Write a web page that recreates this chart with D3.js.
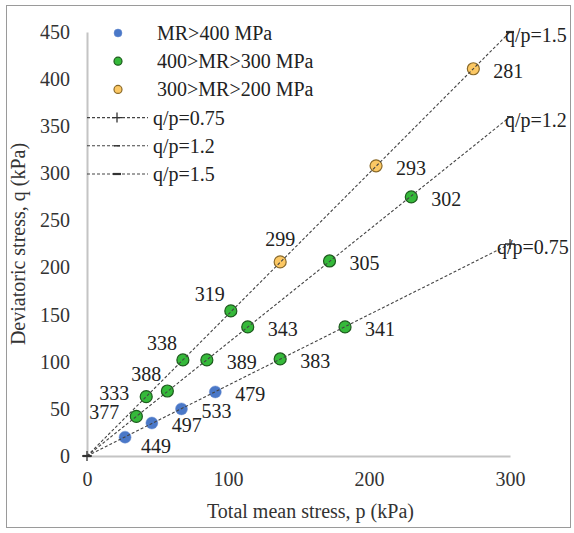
<!DOCTYPE html>
<html>
<head>
<meta charset="utf-8">
<script src="https://cdn.jsdelivr.net/npm/d3@7"></script>
<style>
  html, body { margin: 0; padding: 0; background: #fff; }
  svg { display: block; }
  svg text { font-family: "Liberation Serif", "Times New Roman", serif !important; }
</style>
</head>
<body>
<svg id="chart" width="574" height="533"></svg>
<script>
// Series names (legend)
const seriesNames = ["MR>400 MPa", "400>MR>300 MPa", "300>MR>200 MPa"];

// MR > 400 MPa
const pHigh = [27, 46, 67, 91];
const qHigh = [20, 35, 50, 68];
const mrHigh = [449, 497, 533, 479];

// 400 > MR > 300 MPa
const pMid = [35, 57, 85, 114, 172, 230, 137, 183, 42, 68, 102];
const qMid = [42, 69, 102, 137, 207, 275, 103, 137, 63, 102, 154];
const mrMid = [377, 388, 389, 343, 305, 302, 383, 341, 333, 338, 319];

// 300 > MR > 200 MPa
const pLow = [137, 205, 274];
const qLow = [206, 308, 411];
const mrLow = [299, 293, 281];

// Reference stress ratio lines q/p
const ratios = [0.75, 1.2, 1.5];
const ratioNames = ["q/p=0.75", "q/p=1.2", "q/p=1.5"];

// Axis ticks
const xTicks = [0, 100, 200, 300];
const yTicks = [0, 50, 100, 150, 200, 250, 300, 350, 400, 450];

// Where each value label sits relative to its marker
const sideHigh = ["br", "r", "r", "r"];
const sideMid = ["l", "tl", "r", "r", "r", "r", "r", "r", "l", "tl", "tl"];
const sideLow = ["t", "r", "r"];

const svg = d3.select("#chart");
const font = 20;
const serif = "'Liberation Serif', 'Times New Roman', serif";

// outer frame
svg.append("rect")
  .attr("x", 6.5).attr("y", 5.5).attr("width", 564).attr("height", 522)
  .attr("fill", "#fff").attr("stroke", "#9a9a9a").attr("stroke-width", 1);

const x = d3.scaleLinear().domain([0, 300]).range([87, 510]);
const y = d3.scaleLinear().domain([0, 450]).range([456, 32]);

// axes
const gx = svg.append("g").attr("transform", `translate(0,${y(0)})`)
  .call(d3.axisBottom(x).tickValues(xTicks).tickSize(0).tickPadding(16));
const gy = svg.append("g").attr("transform", `translate(${x(0)},0)`)
  .call(d3.axisLeft(y).tickValues(yTicks).tickSize(0).tickPadding(17));
[gx, gy].forEach(g => {
  g.attr("font-family", serif).attr("font-size", font);
  g.select(".domain").attr("stroke", "#c4c4c4").attr("stroke-width", 2);
  g.selectAll("text").attr("fill", "#333");
});

// axis titles
svg.append("text")
  .attr("x", (x(0) + x(300)) / 2 + 12).attr("y", 518)
  .attr("text-anchor", "middle").attr("font-size", font).attr("fill", "#333")
  .attr("font-family", serif)
  .text("Total mean stress, p (kPa)");
svg.append("text")
  .attr("transform", `translate(25,${(y(0) + y(450)) / 2}) rotate(-90)`)
  .attr("text-anchor", "middle").attr("font-size", font).attr("fill", "#333")
  .attr("font-family", serif)
  .text("Deviatoric stress, q (kPa)");

// series styles
const styles = [
  { fill: "#4a78c8", stroke: "#6d8fd0", sw: 0.5 },
  { fill: "#35b93a", stroke: "#1d5a1d", sw: 1.2 },
  { fill: "#fcc864", stroke: "#8a6a2a", sw: 1.2 }
];

const series = [
  { p: pHigh, q: qHigh, mr: mrHigh, side: sideHigh },
  { p: pMid, q: qMid, mr: mrMid, side: sideMid },
  { p: pLow, q: qLow, mr: mrLow, side: sideLow }
];

const pts = svg.append("g");
const labels = svg.append("g").attr("font-family", serif);

series.forEach((s, si) => {
  const data = s.p.map((p, i) => ({ p, q: s.q[i], mr: s.mr[i], side: s.side[i] }));
  pts.selectAll(null).data(data).enter().append("circle")
    .attr("cx", d => x(d.p)).attr("cy", d => y(d.q)).attr("r", 6)
    .attr("fill", styles[si].fill).attr("stroke", styles[si].stroke)
    .attr("stroke-width", styles[si].sw);

  labels.selectAll(null).data(data).enter().append("text")
    .attr("font-size", font).attr("fill", "#222")
    .attr("dy", "0.35em")
    .attr("text-anchor", d => d.side === "l" ? "end" : (d.side === "t" || d.side === "tl") ? "middle" : "start")
    .attr("x", d => {
      const cx = x(d.p);
      if (d.side === "r") return cx + 20;
      if (d.side === "br") return cx + 16;
      if (d.side === "l") return cx - 17;
      if (d.side === "tl") return cx - 21;
      return cx;
    })
    .attr("y", d => {
      const cy = y(d.q);
      if (d.side === "r") return cy + 2;
      if (d.side === "br") return cy + 9;
      if (d.side === "l") return cy - 4;
      if (d.side === "tl") return cy - 17;
      return cy - 23;
    })
    .text(d => d.mr);
});

// ratio lines drawn over the markers
const lineG = svg.append("g").attr("font-family", serif);
function marker(g, k, cx, cy) {
  if (k === 0) {
    g.append("path").attr("d", `M${cx - 5},${cy}H${cx + 5}M${cx},${cy - 5}V${cy + 5}`)
      .attr("stroke", "#333").attr("stroke-width", 1.3);
  } else if (k === 1) {
    g.append("path").attr("d", `M${cx - 3},${cy}H${cx + 3}`)
      .attr("stroke", "#333").attr("stroke-width", 1.5);
  } else {
    g.append("path").attr("d", `M${cx - 4},${cy}H${cx + 4}`)
      .attr("stroke", "#333").attr("stroke-width", 2.2);
  }
}
ratios.forEach((k, i) => {
  const line = d3.line().x(d => x(d[0])).y(d => y(d[1]));
  lineG.append("path")
    .datum([[0, 0], [300, 300 * k]])
    .attr("d", line).attr("fill", "none")
    .attr("stroke", "#444").attr("stroke-width", 1.1)
    .attr("stroke-dasharray", "3,2");
  marker(lineG, i, x(0), y(0));
  marker(lineG, i, x(300), y(300 * k));
  lineG.append("text")
    .attr("x", x(300) - (i === 0 ? 13 : 5)).attr("y", y(300 * k) + 3)
    .attr("dy", "0.35em").attr("font-size", font).attr("fill", "#222")
    .text(ratioNames[i]);
});

// legend
const leg = svg.append("g").attr("font-family", serif);
const legY = i => 33 + i * 28.2;
seriesNames.forEach((name, i) => {
  leg.append("circle").attr("cx", 118).attr("cy", legY(i)).attr("r", 4)
    .attr("fill", styles[i].fill).attr("stroke", styles[i].stroke)
    .attr("stroke-width", styles[i].sw);
  leg.append("text").attr("x", 157).attr("y", legY(i)).attr("dy", "0.35em")
    .attr("font-size", font).attr("fill", "#222").text(name);
});
ratioNames.forEach((name, j) => {
  const cy = legY(3 + j);
  leg.append("path").attr("d", `M87,${cy}H148`)
    .attr("stroke", "#444").attr("stroke-width", 1.1).attr("stroke-dasharray", "3,2");
  marker(leg, j, 117, cy);
  leg.append("text").attr("x", 153).attr("y", cy).attr("dy", "0.35em")
    .attr("font-size", font).attr("fill", "#222").text(name);
});
</script>
</body>
</html>
